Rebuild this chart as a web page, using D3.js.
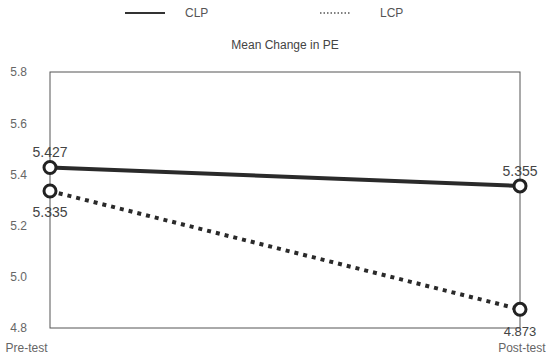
<!DOCTYPE html>
<html><head><meta charset="utf-8">
<script src="https://cdn.jsdelivr.net/npm/d3@7"></script>
<style>body{margin:0;background:#fff}svg{display:block}text{font-family:"Liberation Sans",Arial,sans-serif}</style>
</head><body>
<script>
const categories = ["Pre-test", "Post-test"];
const seriesNames = ["CLP", "LCP"];
const clpValues = [5.427, 5.355];
const lcpValues = [5.335, 4.873];
const yTicks = [4.8, 5.0, 5.2, 5.4, 5.6, 5.8];
const yTickLabels = ["4.8", "5.0", "5.2", "5.4", "5.6", "5.8"];

(function () {
const W = 546, H = 362;
const mLeft = 50, mRight = 520, mTop = 72, mBottom = 328;
const svg = d3.select("body").append("svg").attr("width", W).attr("height", H);

const x = d3.scalePoint().domain(categories).range([mLeft, mRight]);
const y = d3.scaleLinear().domain([4.8, 5.8]).range([mBottom, mTop]);

// plot frame
svg.append("rect").attr("x", mLeft).attr("y", mTop).attr("width", mRight - mLeft).attr("height", mBottom - mTop)
  .attr("fill", "none").attr("stroke", "#555").attr("stroke-width", 1);

// y axis labels
const yAxis = d3.axisLeft(y).tickValues(yTicks).tickFormat((d, i) => yTickLabels[i]).tickSize(0).tickPadding(0);
const ya = svg.append("g").attr("transform", `translate(27,0)`).call(yAxis);
ya.select(".domain").remove();
ya.selectAll("text").attr("fill", "#666").attr("font-size", 12).attr("text-anchor", "end");

// x axis labels
const xAxis = d3.axisBottom(x).tickSize(0).tickPadding(0);
const xa = svg.append("g").attr("transform", `translate(0,${mBottom + 15})`).call(xAxis);
xa.select(".domain").remove();
xa.selectAll("text").attr("fill", "#666").attr("font-size", 12)
  .attr("text-anchor", (d, i) => i === 0 ? "middle" : "end")
  .attr("dx", (d, i) => i === 0 ? -24 : 25);

// title
svg.append("text").attr("x", 285).attr("y", 49).attr("text-anchor", "middle")
  .attr("font-size", 12).attr("fill", "#444").text("Mean Change in PE");

// legend
const leg = svg.append("g");
leg.append("line").attr("x1", 125).attr("x2", 165).attr("y1", 13).attr("y2", 13)
  .attr("stroke", "#333").attr("stroke-width", 2);
leg.append("text").attr("x", 185).attr("y", 17).attr("font-size", 12).attr("fill", "#555").text(seriesNames[0]);
leg.append("line").attr("x1", 320).attr("x2", 350).attr("y1", 13).attr("y2", 13)
  .attr("stroke", "#555").attr("stroke-width", 1.5).attr("stroke-dasharray", "1.5,2");
leg.append("text").attr("x", 380).attr("y", 17).attr("font-size", 12).attr("fill", "#555").text(seriesNames[1]);

const line = d3.line().x((d, i) => x(categories[i])).y(d => y(d));

svg.append("path").datum(clpValues).attr("d", line).attr("fill", "none")
  .attr("stroke", "#2a2a2a").attr("stroke-width", 4);
svg.append("path").datum(lcpValues).attr("d", line).attr("fill", "none")
  .attr("stroke", "#2a2a2a").attr("stroke-width", 4).attr("stroke-dasharray", "4,5");

[clpValues, lcpValues].forEach(vals => {
  svg.append("g").selectAll("circle").data(vals).join("circle")
    .attr("cx", (d, i) => x(categories[i])).attr("cy", d => y(d)).attr("r", 6)
    .attr("fill", "#fff").attr("stroke", "#222").attr("stroke-width", 3);
});

// value labels
const lab = svg.append("g").attr("fill", "#444").attr("text-anchor", "middle");
lab.append("text").attr("font-size", 14).attr("x", x(categories[0])).attr("y", y(clpValues[0]) - 10).text(clpValues[0].toFixed(3));
lab.append("text").attr("font-size", 14).attr("x", x(categories[0])).attr("y", y(lcpValues[0]) + 26).text(lcpValues[0].toFixed(3));
lab.append("text").attr("font-size", 14).attr("x", x(categories[1])).attr("y", y(clpValues[1]) - 10).text(clpValues[1].toFixed(3));
lab.append("text").attr("font-size", 13).attr("x", x(categories[1])).attr("y", y(lcpValues[1]) + 27).text(lcpValues[1].toFixed(3));
})();
</script>
</body></html>
